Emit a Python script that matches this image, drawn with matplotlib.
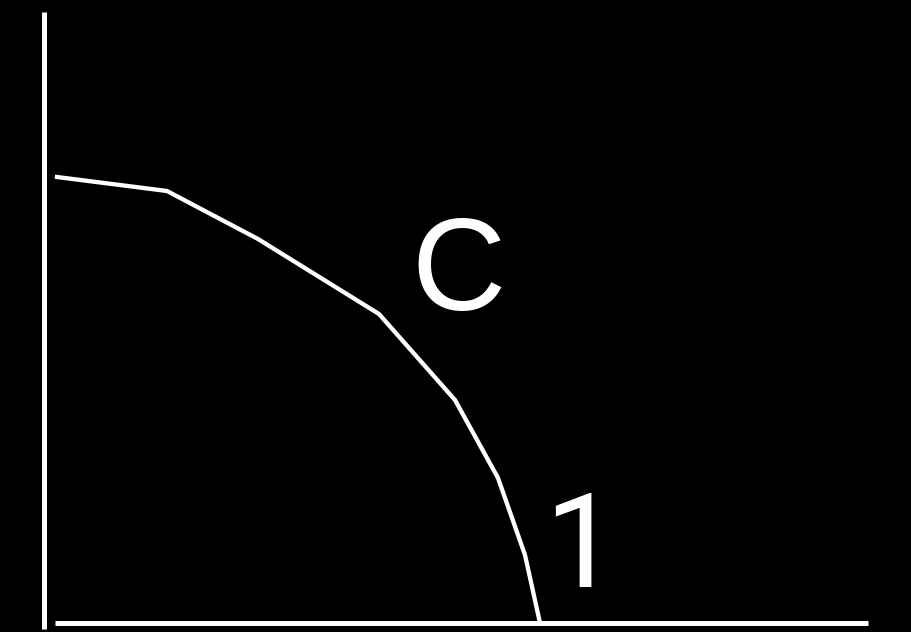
import matplotlib
matplotlib.use('Agg')
import matplotlib.pyplot as plt

# curve vertices, measured from the axis corner (x right, y up)
curve_x = [13, 123, 214, 335, 411, 454, 481, 496]
curve_y = [446, 432, 384, 309, 223, 145, 68, 0]

# axis extents
y_axis_top = 611
x_axis_right = 824

labels = ['C', '1']
label_x = [367, 500]
label_y = [313, 36]
label_font = ['Liberation Sans', 'Roboto']

fig = plt.figure(figsize=(9.12, 6.32), dpi=100, facecolor='black')
ax = fig.add_axes([0, 0, 1, 1])
ax.set_facecolor('black')
ax.set_xlim(-44, 868)
ax.set_ylim(-9, 623)
ax.axis('off')

ax.plot([0, 0], [-6, y_axis_top], color='white', lw=3.6, solid_capstyle='butt')
ax.plot([11, x_axis_right], [0, 0], color='white', lw=3.6, solid_capstyle='butt')
ax.plot(curve_x, curve_y, color='white', lw=3.1, solid_joinstyle='miter')

for t, x, y, f in zip(labels, label_x, label_y, label_font):
    ax.text(x, y, t, color='white', fontsize=94, family=f,
            ha='left', va='baseline')

fig.savefig('out.png', dpi=100, facecolor='black')
